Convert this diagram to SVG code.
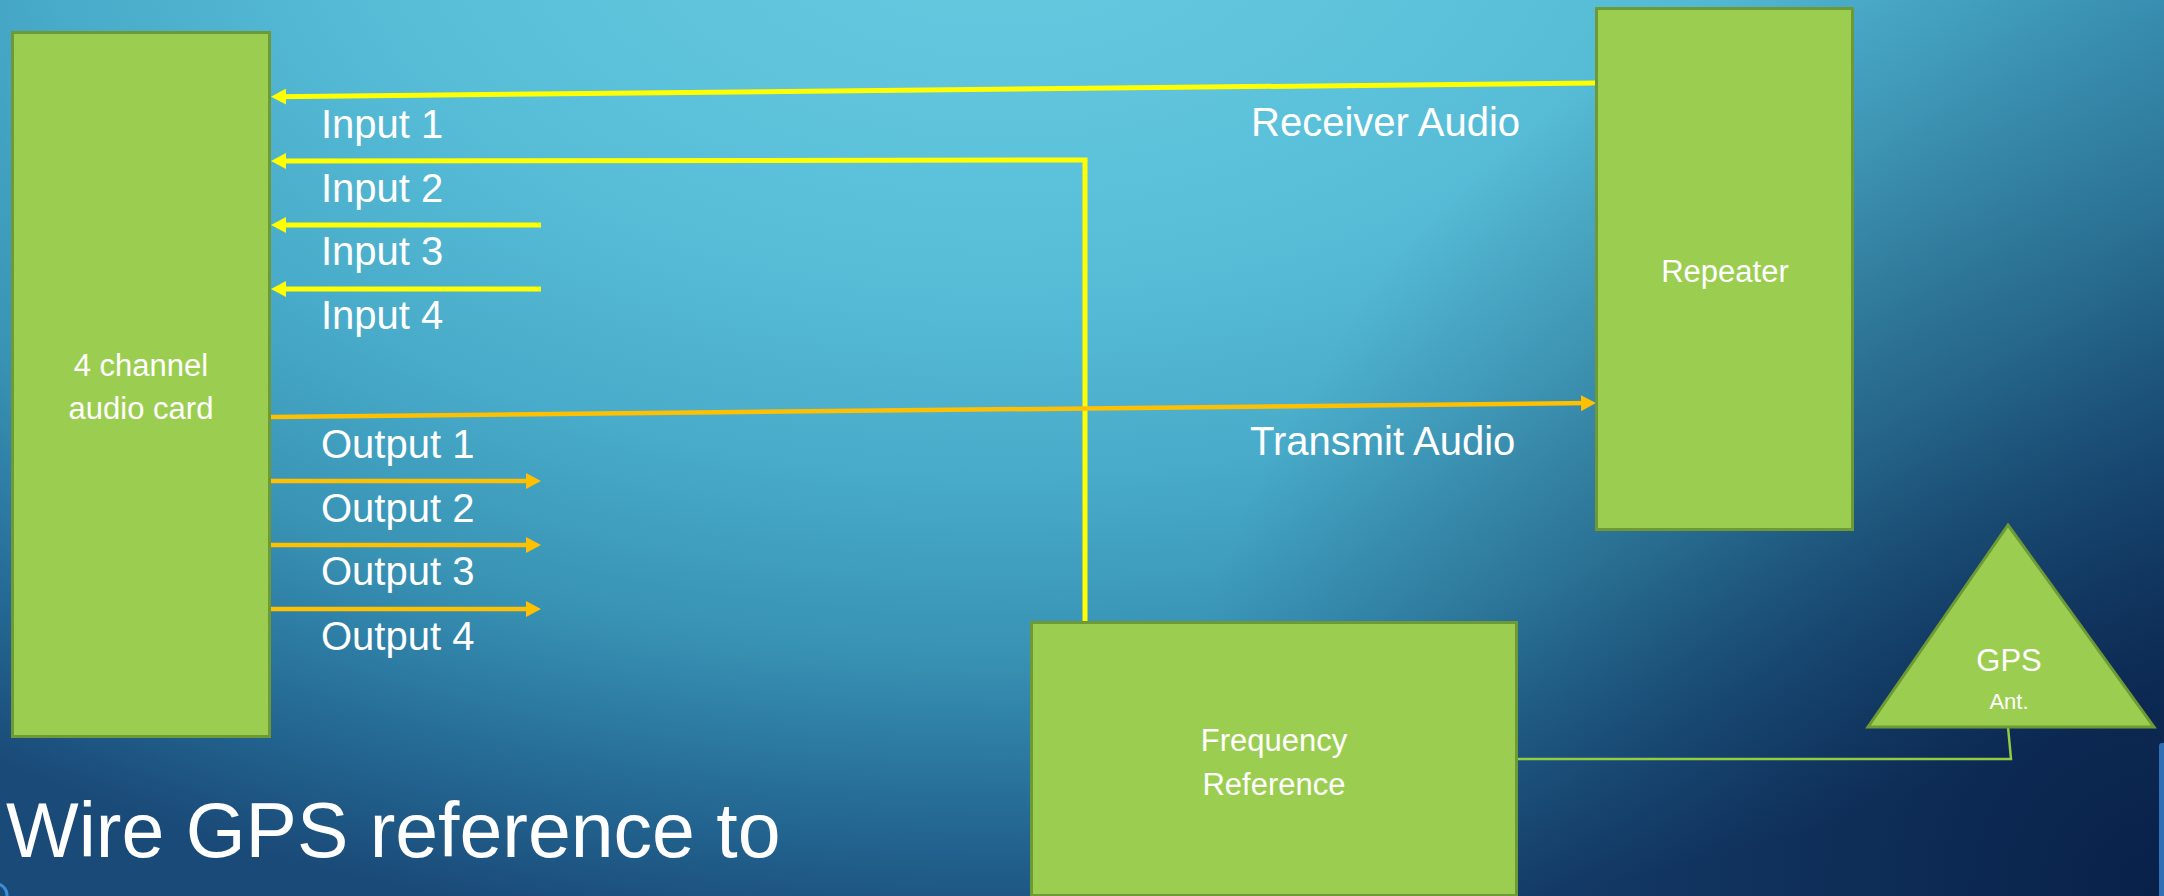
<svg xmlns="http://www.w3.org/2000/svg" width="2164" height="896" viewBox="0 0 2164 896">
  <defs>
    <radialGradient id="bgGlow" gradientUnits="userSpaceOnUse" cx="0" cy="0" r="1" gradientTransform="matrix(1750 0 0 1050 1000 -100)">
      <stop offset="0" stop-color="#68cce1"/>
      <stop offset="0.35" stop-color="#58bed8"/>
      <stop offset="0.55" stop-color="#48abc9"/>
      <stop offset="0.72" stop-color="#3892b4"/>
      <stop offset="0.86" stop-color="#266d98"/>
      <stop offset="1" stop-color="#1a4a78"/>
    </radialGradient>
    <radialGradient id="bgShade" gradientUnits="userSpaceOnUse" cx="2164" cy="896" r="1000">
      <stop offset="0" stop-color="#04163d" stop-opacity="0.8"/>
      <stop offset="1" stop-color="#04163d" stop-opacity="0"/>
    </radialGradient>
    <marker id="headYellow" markerUnits="userSpaceOnUse" markerWidth="16" markerHeight="16" refX="9" refY="8" orient="auto">
      <path d="M0,0 L15,8 L0,16 z" fill="#ffff00"/>
    </marker>
    <marker id="headOrange" markerUnits="userSpaceOnUse" markerWidth="16" markerHeight="16" refX="9" refY="8" orient="auto">
      <path d="M0,0 L15,8 L0,16 z" fill="#ffc000"/>
    </marker>
    <style>
      .box { fill: #9bce50; stroke: #6e9a35; stroke-width: 3; }
      .lbl { font-family: "Liberation Sans", Arial, sans-serif; fill: #ffffff; }
      .port { font-size: 40px; }
      .name { font-size: 31px; text-anchor: middle; }
      .yel { fill: none; stroke: #ffff00; stroke-width: 5; }
      .org { fill: none; stroke: #ffc000; stroke-width: 4.5; }
      .gps { fill: none; stroke: #92cc45; stroke-width: 2.5; }
    </style>
  </defs>

  <!-- background -->
  <rect x="0" y="0" width="2164" height="896" fill="url(#bgGlow)"/>
  <rect x="0" y="0" width="2164" height="896" fill="url(#bgShade)"/>
  <rect x="2159" y="743" width="10" height="160" rx="3" fill="#2f6fb5"/>
  <circle cx="-4" cy="895" r="11" fill="none" stroke="#3b8fd8" stroke-width="3"/>

  <!-- connectors -->
  <g id="connectors">
    <path class="yel" d="M1596,83 L277,96.7" marker-end="url(#headYellow)"/>
    <path class="yel" d="M1085,622 L1085,160 L277,161" marker-end="url(#headYellow)"/>
    <path class="yel" d="M541,225 L277,225" marker-end="url(#headYellow)"/>
    <path class="yel" d="M541,289 L277,289" marker-end="url(#headYellow)"/>
    <path class="org" d="M270,417 L1590,403.1" marker-end="url(#headOrange)"/>
    <path class="org" d="M270,481 L535,481" marker-end="url(#headOrange)"/>
    <path class="org" d="M270,545 L535,545" marker-end="url(#headOrange)"/>
    <path class="org" d="M270,609 L535,609" marker-end="url(#headOrange)"/>
    <path class="gps" d="M1517,759 L2011,759 L2008,727"/>
  </g>

  <!-- port labels -->
  <g id="port-labels" class="lbl port">
    <text x="321" y="138">Input 1</text>
    <text x="321" y="202">Input 2</text>
    <text x="321" y="265">Input 3</text>
    <text x="321" y="329">Input 4</text>
    <text x="321" y="458">Output 1</text>
    <text x="321" y="522">Output 2</text>
    <text x="321" y="585">Output 3</text>
    <text x="321" y="650">Output 4</text>
    <text x="1251" y="136">Receiver Audio</text>
    <text x="1250" y="455">Transmit Audio</text>
  </g>

  <g id="audio-card">
    <rect class="box" x="12.5" y="32.5" width="257" height="704"/>
    <text class="lbl name" x="141" y="376">4 channel</text>
    <text class="lbl name" x="141" y="419">audio card</text>
  </g>

  <g id="repeater">
    <rect class="box" x="1596.5" y="8.5" width="256" height="521"/>
    <text class="lbl name" x="1725" y="282">Repeater</text>
  </g>

  <g id="frequency-reference">
    <rect class="box" x="1031.5" y="622.5" width="485" height="273"/>
    <text class="lbl name" x="1274" y="751">Frequency</text>
    <text class="lbl name" x="1274" y="795">Reference</text>
  </g>

  <g id="gps-antenna">
    <polygon class="box" points="2008,525 2154,727 1868,727"/>
    <text class="lbl name" x="2009" y="671">GPS</text>
    <text class="lbl name" x="2009" y="709" style="font-size:22px">Ant.</text>
  </g>

  <text class="lbl" x="6" y="857" style="font-size:77px">Wire GPS reference to</text>
</svg>
